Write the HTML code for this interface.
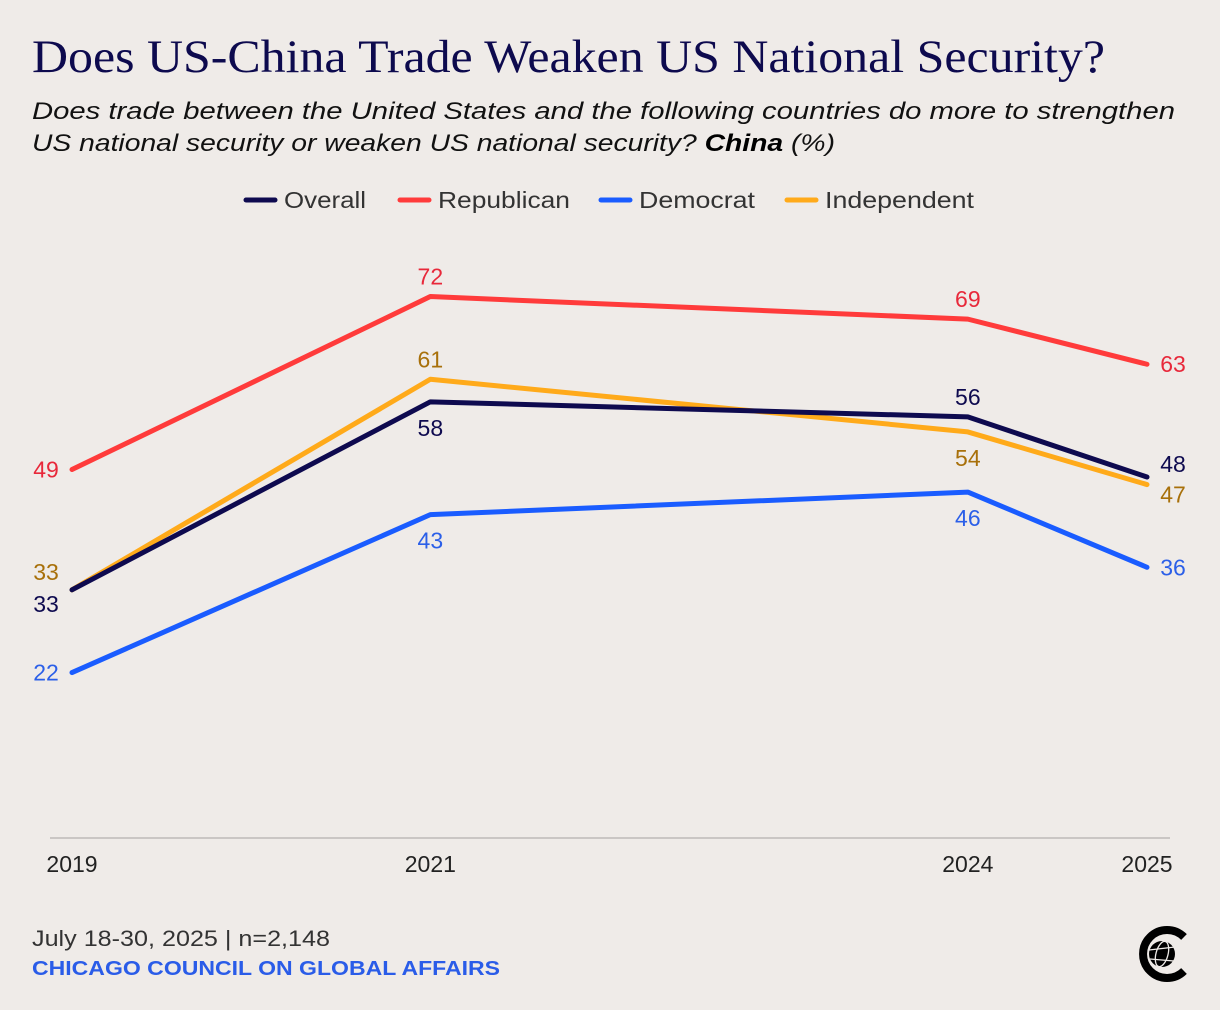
<!DOCTYPE html>
<html><head><meta charset="utf-8"><style>
html,body{margin:0;padding:0;background:#efebe8;}
svg{display:block;font-family:"Liberation Sans",sans-serif;}
</style></head><body>
<svg id="chart" width="1220" height="1010" viewBox="0 0 1220 1010">
<rect width="1220" height="1010" fill="#efebe8"/>
<text x="32" y="72" font-family="Liberation Serif, serif" font-size="47" fill="#0d0a4e" textLength="1073" lengthAdjust="spacingAndGlyphs">Does US-China Trade Weaken US National Security?</text>
<text x="32" y="119" font-size="24" font-style="italic" fill="#111" textLength="1143" lengthAdjust="spacingAndGlyphs">Does trade between the United States and the following countries do more to strengthen</text>
<text x="32" y="151" font-size="24" font-style="italic" fill="#111" textLength="803" lengthAdjust="spacingAndGlyphs">US national security or weaken US national security? <tspan font-weight="bold" fill="#000">China</tspan> (%)</text>
<g id="legend"></g>
<line x1="50" x2="1170" y1="838" y2="838" stroke="#bdbab7" stroke-width="1.5"/>
<g id="xticks"></g>
<g id="series"></g>
<text x="32" y="946" font-size="22" fill="#333" textLength="298" lengthAdjust="spacingAndGlyphs">July 18-30, 2025 | n=2,148</text>
<text x="32" y="975" font-size="20" font-weight="bold" fill="#2a5ce8" textLength="468" lengthAdjust="spacingAndGlyphs">CHICAGO COUNCIL ON GLOBAL AFFAIRS</text>
<g>
<path d="M1184 937 A24 24 0 1 0 1184 971" fill="none" stroke="#000" stroke-width="8"/>
<circle cx="1162" cy="954" r="13" fill="#000"/>
<g stroke="#efebe8" stroke-width="1.3" fill="none">
<ellipse cx="1162" cy="954" rx="6" ry="13" transform="rotate(15 1162 954)"/>
<line x1="1149" y1="950" x2="1175" y2="947"/><line x1="1150" y1="959" x2="1174" y2="961"/>
</g></g>
</svg>
<script>
const years = [2019, 2021, 2024, 2025];
const seriesNames = ["Republican", "Independent", "Overall", "Democrat"];
const overall = [33, 58, 56, 48];
const republican = [49, 72, 69, 63];
const democrat = [22, 43, 46, 36];
const independent = [33, 61, 54, 47];
const legendNames = ["Overall", "Republican", "Democrat", "Independent"];

const NS = "http://www.w3.org/2000/svg";
function x(yr){ return 72 + (yr - 2019) * (1147 - 72) / 6; }
function y(v){ return 838 - v * 7.52; }
function mk(tag, attrs, parent){ const e = document.createElementNS(NS, tag); for (const k in attrs) e.setAttribute(k, attrs[k]); parent.appendChild(e); return e; }

const styles = {
  Overall:{line:"#0e0a4f", label:"#0e0a4f", pos:["below","below","above","rightup"]},
  Republican:{line:"#ff3b3b", label:"#e8283a", pos:["left","above","above","right"]},
  Democrat:{line:"#1a5cff", label:"#2b5fe8", pos:["left","below","below","right"]},
  Independent:{line:"#ffaa1a", label:"#a8700a", pos:["above","above","below","rightdown"]}
};
const dataFor = {Overall:overall, Republican:republican, Democrat:democrat, Independent:independent};

const xt = document.getElementById("xticks");
years.forEach(function(yr){
  const t = mk("text", {x:x(yr), y:872, "font-size":23, fill:"#222", "text-anchor":"middle"}, xt);
  
  
  t.textContent = yr;
});

const lg = document.getElementById("legend");
const legX = [246, 400, 601, 787];
const legW = [82, 132, 116, 149];
legendNames.forEach(function(n, i){
  const g = mk("g", {}, lg);
  
  
  mk("line", {x1:legX[i], x2:legX[i]+29, y1:200, y2:200, stroke:styles[n].line, "stroke-width":5, "stroke-linecap":"round"}, g);
  const t = mk("text", {x:legX[i]+38, y:208, "font-size":23, fill:"#333", textLength:legW[i], lengthAdjust:"spacingAndGlyphs"}, g);
  t.textContent = n;
});

const sg = document.getElementById("series");
seriesNames.forEach(function(n){
  const vals = dataFor[n], st = styles[n];
  const g = mk("g", {}, sg);
  
  
  const pts = vals.map(function(v, i){ return x(years[i]) + "," + y(v); }).join(" ");
  const pl = mk("polyline", {points:pts, fill:"none", stroke:st.line, "stroke-width":5, "stroke-linejoin":"round", "stroke-linecap":"round"}, g);
  
  
  vals.forEach(function(v, i){
    const px = x(years[i]), py = y(v), p = st.pos[i];
    let tx = px, ty = py + 8;
    if (p === "left"){ tx = px - 26; }
    if (p === "right"){ tx = px + 26; }
    if (p === "rightup"){ tx = px + 26; ty = py - 5; }
    if (p === "rightdown"){ tx = px + 26; ty = py + 18; }
    if (p === "above"){ ty = py - 12; }
    if (p === "below"){ ty = py + 34; }
    if (n === "Overall" && i === 0){ tx = px - 26; ty = py + 22; }
    if (n === "Independent" && i === 0){ tx = px - 26; ty = py - 10; }
    const t = mk("text", {x:tx, y:ty, "font-size":23, fill:st.label, "text-anchor":"middle"}, g);
    
    
    t.textContent = v;
  });
});
</script>
</body></html>
